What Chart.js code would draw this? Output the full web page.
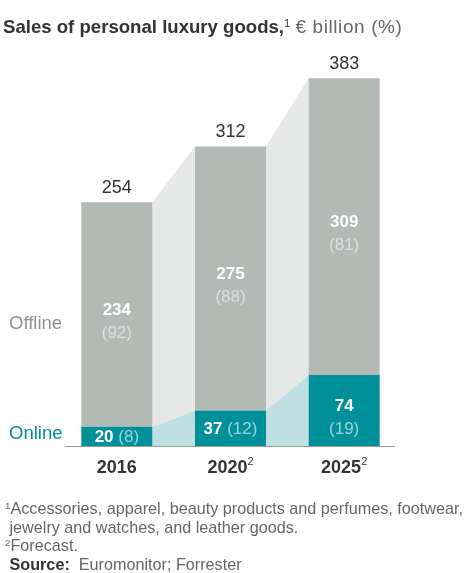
<!DOCTYPE html>
<html>
<head>
<meta charset="utf-8">
<script src="https://cdn.jsdelivr.net/npm/chart.js@4"></script>
<style>
  body { margin: 0; background: #fff; font-family: "Liberation Sans", Arial, sans-serif; }
  #wrap { position: relative; width: 469px; height: 573px; overflow: hidden; }
  #chart { position: absolute; left: 0; top: 0; }
  .title { position: absolute; left: 3px; top: 16px; font-size: 18.6px; color: #333; white-space: nowrap; }
  .title b { font-weight: bold; }
  .title .unit { color: #666; font-size: 19px; letter-spacing: 0.6px; }
  sup { font-size: 60%; line-height: 0; vertical-align: 0; position: relative; top: -0.55em; }
  .notes { position: absolute; left: 5px; top: 499px; font-size: 16.2px; color: #666; white-space: nowrap; }
  .notes div { height: 18.7px; line-height: 18.7px; }
  .notes .src { color: #333; font-weight: bold; }
</style>
</head>
<body>
<div id="wrap">
  <canvas id="chart" width="469" height="573"></canvas>
  <div class="title"><b>Sales of personal luxury goods,</b><sup>1</sup> <span class="unit">€ billion (%)</span></div>
  <div class="notes">
    <div><sup>1</sup>Accessories, apparel, beauty products and perfumes, footwear,</div>
    <div>&nbsp;jewelry and watches, and leather goods.</div>
    <div><sup>2</sup>Forecast.</div>
    <div>&nbsp;<span class="src">Source:</span>&nbsp; Euromonitor; Forrester</div>
  </div>
</div>
<script>
const years = ["2016", "2020", "2025"];
const yearNotes = ["", "2", "2"];
const online = [20, 37, 74];
const offline = [234, 275, 309];
const onlineShare = [8, 12, 19];
const offlineShare = [92, 88, 81];

const FONT = '"Liberation Sans", Arial, sans-serif';
const teal = "#00909a";
const grey = "#b3b9b5";

const connectors = {
    id: "connectors",
    beforeDatasetsDraw(chart) {
        const ctx = chart.ctx;
        const on = chart.getDatasetMeta(0).data;
        const off = chart.getDatasetMeta(1).data;
        ctx.save();
        for (let i = 0; i < on.length - 1; i++) {
            const r = on[i].x + on[i].width / 2;
            const l = on[i + 1].x - on[i + 1].width / 2;
            const base = on[i].base;
            // online band
            ctx.fillStyle = "#bfe0e2";
            ctx.beginPath();
            ctx.moveTo(r, base);
            ctx.lineTo(r, on[i].y);
            ctx.lineTo(l, on[i + 1].y);
            ctx.lineTo(l, base);
            ctx.closePath();
            ctx.fill();
            // offline band
            ctx.fillStyle = "#e6e8e7";
            ctx.beginPath();
            ctx.moveTo(r, on[i].y);
            ctx.lineTo(r, off[i].y);
            ctx.lineTo(l, off[i + 1].y);
            ctx.lineTo(l, on[i + 1].y);
            ctx.closePath();
            ctx.fill();
        }
        ctx.restore();
    }
};

const labels = {
    id: "labels",
    afterDatasetsDraw(chart) {
        const ctx = chart.ctx;
        const area = chart.chartArea;
        const on = chart.getDatasetMeta(0).data;
        const off = chart.getDatasetMeta(1).data;
        ctx.save();
        const base = on[0].base;

        // baseline
        ctx.strokeStyle = "#9a9a9a";
        ctx.lineWidth = 1;
        ctx.beginPath();
        ctx.moveTo(area.left + 5, base + 0.5);
        ctx.lineTo(area.right - 6, base + 0.5);
        ctx.stroke();

        ctx.textAlign = "center";
        ctx.textBaseline = "middle";

        const pair = (x, y, val, pct, pctColor, twoLines) => {
            if (twoLines) {
                ctx.font = "bold 17px " + FONT;
                ctx.fillStyle = "#fff";
                ctx.fillText(val, x, y - 4);
                ctx.font = "17px " + FONT;
                ctx.fillStyle = pctColor;
                ctx.fillText("(" + pct + ")", x, y + 19);
            } else {
                ctx.font = "bold 17px " + FONT;
                const a = ctx.measureText(val + " ").width;
                ctx.font = "17px " + FONT;
                const b = ctx.measureText("(" + pct + ")").width;
                let sx = x - (a + b) / 2;
                ctx.textAlign = "left";
                ctx.font = "bold 17px " + FONT;
                ctx.fillStyle = "#fff";
                ctx.fillText(val + " ", sx, y + 1);
                ctx.font = "17px " + FONT;
                ctx.fillStyle = pctColor;
                ctx.fillText("(" + pct + ")", sx + a, y + 1);
                ctx.textAlign = "center";
            }
        };

        years.forEach((yr, i) => {
            const x = on[i].x;
            // offline segment
            const offMid = (off[i].y + off[i].base) / 2;
            pair(x, offMid, String(offline[i]), offlineShare[i], "rgba(255,255,255,0.55)", true);
            // online segment
            const onH = on[i].base - on[i].y;
            const onMid = (on[i].y + on[i].base) / 2;
            pair(x, onMid, String(online[i]), onlineShare[i], "rgba(255,255,255,0.6)", onH > 50);
            // total
            ctx.font = "18px " + FONT;
            ctx.fillStyle = "#333";
            ctx.fillText(String(online[i] + offline[i]), x, off[i].y - 14);
            // year
            ctx.font = "bold 18px " + FONT;
            const w = ctx.measureText(yr).width;
            ctx.font = "11px " + FONT;
            const sw = yearNotes[i] ? ctx.measureText(yearNotes[i]).width : 0;
            const sx = x - (w + sw) / 2;
            ctx.textAlign = "left";
            ctx.font = "bold 18px " + FONT;
            ctx.fillStyle = "#333";
            ctx.fillText(yr, sx, base + 22);
            if (yearNotes[i]) {
                ctx.font = "11px " + FONT;
                ctx.fillText(yearNotes[i], sx + w, base + 16);
            }
            ctx.textAlign = "center";
        });

        // series labels
        ctx.textAlign = "left";
        ctx.font = "18.5px " + FONT;
        ctx.fillStyle = "#8c938f";
        ctx.fillText("Offline", 9, 324);
        ctx.fillStyle = teal;
        ctx.fillText("Online", 9, 434);
        ctx.restore();
    }
};

new Chart("chart", {
    type: "bar",
    data: {
        labels: years,
        datasets: [{
            label: "Online",
            data: online,
            backgroundColor: teal,
            borderWidth: 0
        }, {
            label: "Offline",
            data: offline,
            backgroundColor: grey,
            borderWidth: 0
        }]
    },
    options: {
        responsive: false,
        animation: false,
        layout: { padding: { left: 60, right: 68, top: 62, bottom: 127 } },
        datasets: { bar: { barPercentage: 1, categoryPercentage: 0.625 } },
        plugins: { legend: { display: false }, tooltip: { enabled: false } },
        scales: {
            x: { stacked: true, display: false },
            y: { stacked: true, display: false, min: 0, max: 400 }
        }
    },
    plugins: [connectors, labels]
});
</script>
</body>
</html>
